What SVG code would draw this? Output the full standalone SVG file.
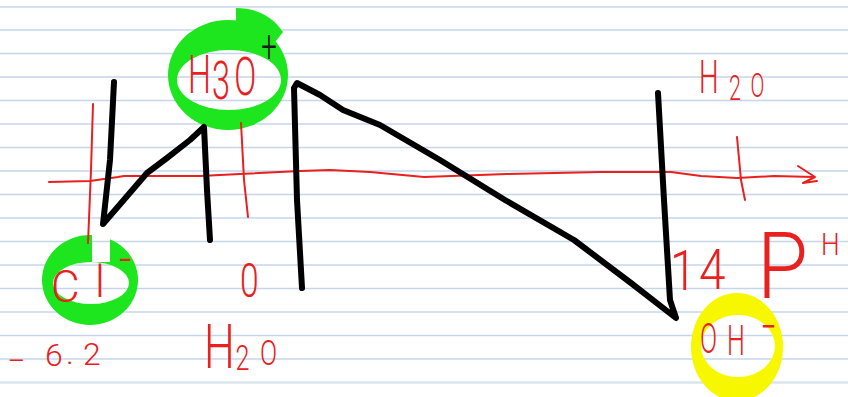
<svg xmlns="http://www.w3.org/2000/svg" width="848" height="397" viewBox="0 0 848 397">
<style>
.rule{stroke:#c6d6ea;stroke-width:1.5}
.ink{fill:none;stroke:#000;stroke-width:6;stroke-linecap:round;stroke-linejoin:round}
.red{fill:none;stroke:#e8201e;stroke-width:2;stroke-linecap:round;stroke-linejoin:round}
.t{font-family:Roboto,"Liberation Sans",Arial,sans-serif;font-weight:300;fill:#e8201e}
.green{fill:#1ee61e;fill-rule:evenodd}
.yellow{fill:#f7f700;fill-rule:evenodd}
</style>
<defs>
<mask id="clgap"><rect x="0" y="0" width="848" height="397" fill="#fff"/><rect x="92" y="220" width="18" height="42" fill="#000"/></mask>
</defs>
<rect width="848" height="397" fill="#fff"/>
<g id="paper">
<line class="rule" x1="0" y1="7" x2="848" y2="7"/>
<line class="rule" x1="0" y1="30" x2="848" y2="30"/>
<line class="rule" x1="0" y1="53.5" x2="848" y2="53.5"/>
<line class="rule" x1="0" y1="77" x2="848" y2="77"/>
<line class="rule" x1="0" y1="100.5" x2="848" y2="100.5"/>
<line class="rule" x1="0" y1="124" x2="848" y2="124"/>
<line class="rule" x1="0" y1="147.5" x2="848" y2="147.5"/>
<line class="rule" x1="0" y1="171" x2="848" y2="171"/>
<line class="rule" x1="0" y1="194.5" x2="848" y2="194.5"/>
<line class="rule" x1="0" y1="218" x2="848" y2="218"/>
<line class="rule" x1="0" y1="241.5" x2="848" y2="241.5"/>
<line class="rule" x1="0" y1="265" x2="848" y2="265"/>
<line class="rule" x1="0" y1="288.5" x2="848" y2="288.5"/>
<line class="rule" x1="0" y1="312" x2="848" y2="312"/>
<line class="rule" x1="0" y1="335.5" x2="848" y2="335.5"/>
<line class="rule" x1="0" y1="359" x2="848" y2="359"/>
<line x1="0" y1="382.5" x2="848" y2="382.5" stroke="#dbe3ec" stroke-width="2.5"/>
</g>
<g id="node-h3o">
<path class="green" d="M168,75 A60,55 0 1 0 288,75 A60,55 0 1 0 168,75 Z M177,80 A52,30 0 1 0 281,80 A52,30 0 1 0 177,80 Z"/>
<path class="green" d="M236,8 C256,8 272,16 283,32 L272,46 L236,44 Z"/>
<text class="t" font-size="54" transform="translate(188,93) scale(0.6,1)"><tspan x="0" y="0">H</tspan><tspan x="40" y="6">3</tspan><tspan x="77" y="2">O</tspan><tspan x="122" y="-31" font-size="46" fill="#1a1a1a">+</tspan></text>
</g>
<g id="node-cl">
<path class="green" mask="url(#clgap)" d="M42,280 A48,45 0 1 0 138,280 A48,45 0 1 0 42,280 Z M53,283 A38,21 0 1 0 129,283 A38,21 0 1 0 53,283 Z"/>
<text class="t" font-size="44"><tspan x="51" y="302">C</tspan><tspan x="95" y="297">l</tspan><tspan x="119" y="274">-</tspan></text>
</g>
<g id="node-zero">
<text class="t" font-size="48" transform="translate(240,297) scale(0.7,1)">0</text>
</g>
<g id="node-h2o-bottom">
<text class="t" font-size="62" transform="translate(204,368) scale(0.7,1)"><tspan x="0" y="0">H</tspan><tspan x="45" y="2" font-size="36">2</tspan><tspan x="80" y="-3" font-size="36">O</tspan></text>
</g>
<g id="node-minus62">
<text class="t" font-size="32"><tspan x="7" y="372">−</tspan><tspan x="45" y="366">6</tspan><tspan x="66" y="364">.</tspan><tspan x="83" y="365">2</tspan></text>
</g>
<g id="node-h2o-top">
<text class="t" font-size="46" transform="translate(699,93) scale(0.6,1)"><tspan x="0" y="0">H</tspan><tspan x="50" y="7" font-size="36">2</tspan><tspan x="86" y="4" font-size="34">O</tspan></text>
</g>
<g id="node-14">
<text class="t" font-size="56" transform="translate(670,290) scale(0.85,1)"><tspan x="0" y="0">1</tspan><tspan x="34" y="-1">4</tspan></text>
</g>
<g id="node-ph">
<text class="t" font-size="92" transform="translate(757,298) scale(0.9,1)"><tspan x="0" y="0">P</tspan></text>
<text class="t" font-size="31" transform="translate(821,255) scale(0.85,1)">H</text>
</g>
<g id="node-oh">
<path class="yellow" d="M691,347 A46,54 0 1 0 783,347 A46,54 0 1 0 691,347 Z M701,346 A37,31 0 1 0 775,346 A37,31 0 1 0 701,346 Z"/>
<text class="t" font-size="42" transform="translate(700,353) scale(0.6,1)"><tspan x="0" y="0">O</tspan><tspan x="45" y="2">H</tspan><tspan x="101" y="-10" font-size="46">−</tspan></text>
</g>
<g id="connectors">
<path class="red" d="M49,182 L90,181 L118,177 L124,176 L200,176 L240,174 L300,171 L330,170 L370,172 L424,177 L507,174 L601,172 L644,172 L671,172 L701,176 L737,178 L774,176 L814,177"/>
<path class="red" d="M798,166 L815,177 L803,183 L817,181"/>
<path class="red" d="M93,104 L91,170 L88,243"/>
<path class="red" d="M241,123 L244,180 L248,217"/>
<path class="red" d="M737,137 L741,180 L745,200"/>
<path class="ink" d="M114,82 L110,160 L103,224 L122,202 L147,173 L167,158 L190,140 L204,127 L207,190 L210,240"/>
<path class="ink" d="M302,288 L297,200 L294,88 L297,83 L320,95 L343,110 L380,125 L440,160 L505,200 L574,240 L631,283 L676,318 L670,300 L664,200 L658,93"/>
</g>
</svg>
